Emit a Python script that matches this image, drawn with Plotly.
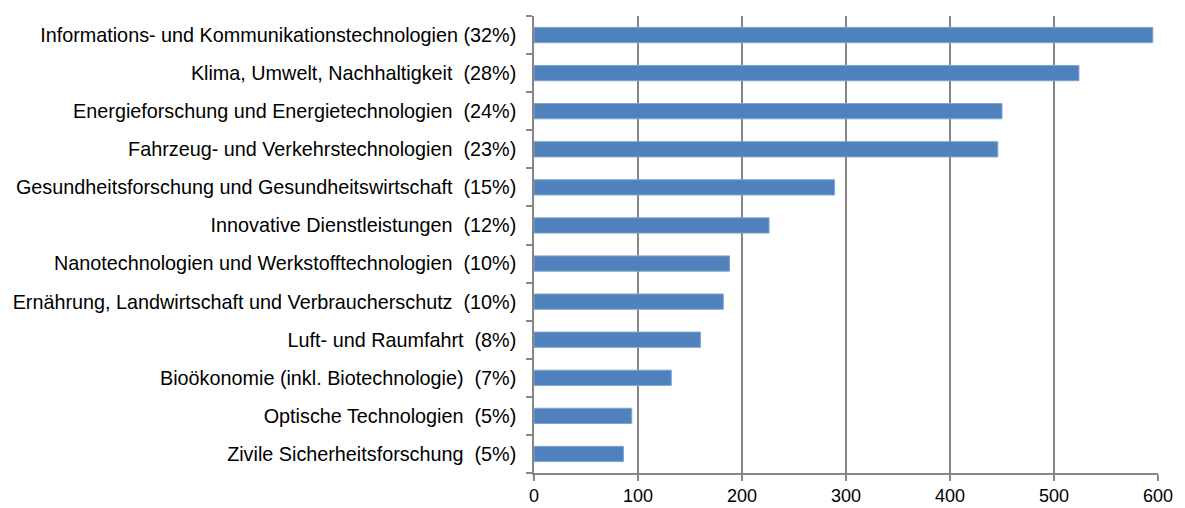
import plotly.graph_objects as go

categories = [
    "Informations- und Kommunikationstechnologien (32%)",
    "Klima, Umwelt, Nachhaltigkeit\u00a0 (28%)",
    "Energieforschung und Energietechnologien\u00a0 (24%)",
    "Fahrzeug- und Verkehrstechnologien\u00a0 (23%)",
    "Gesundheitsforschung und Gesundheitswirtschaft\u00a0 (15%)",
    "Innovative Dienstleistungen\u00a0 (12%)",
    "Nanotechnologien und Werkstofftechnologien\u00a0 (10%)",
    "Ernährung, Landwirtschaft und Verbraucherschutz\u00a0 (10%)",
    "Luft- und Raumfahrt\u00a0 (8%)",
    "Bioökonomie (inkl. Biotechnologie)\u00a0 (7%)",
    "Optische Technologien\u00a0 (5%)",
    "Zivile Sicherheitsforschung\u00a0 (5%)",
]
values = [595, 524, 450, 446, 289, 226, 188, 182, 160, 132, 94, 86]
x_ticks = [0, 100, 200, 300, 400, 500, 600]

grey = "#868686"

fig = go.Figure(
    go.Bar(
        y=categories,
        x=values,
        orientation="h",
        marker=dict(color="#4F81BD", line=dict(color="#7FA3D1", width=1)),
    )
)

fig.update_layout(
    width=1185,
    height=508,
    margin=dict(l=534, r=27, t=16, b=35),
    plot_bgcolor="white",
    paper_bgcolor="white",
    showlegend=False,
    bargap=0.6,
    font=dict(family="Liberation Sans, Arial, sans-serif", size=18, color="#000000"),
)

fig.update_xaxes(
    range=[0, 600],
    tickvals=x_ticks,
    automargin=False,
    showgrid=True,
    gridcolor=grey,
    gridwidth=1.5,
    showline=True,
    linecolor=grey,
    linewidth=1.5,
    ticks="outside",
    ticklen=6,
    tickcolor=grey,
    tickwidth=1.5,
    zeroline=False,
    tickfont=dict(size=18),
)

fig.update_yaxes(
    categoryorder="array",
    categoryarray=categories[::-1],
    autorange=False,
    range=[-0.5, len(categories) - 0.5],
    automargin=False,
    showgrid=False,
    showline=True,
    linecolor=grey,
    linewidth=1.5,
    ticks="outside",
    tickson="boundaries",
    ticklen=6,
    tickcolor=grey,
    tickwidth=1.5,
    ticklabelstandoff=12,
    tickfont=dict(size=19.8),
)

fig.write_html(
    "out.html",
    config={"displayModeBar": False},
    post_script="document.body.style.margin='0';document.body.style.overflow='hidden';",
)
